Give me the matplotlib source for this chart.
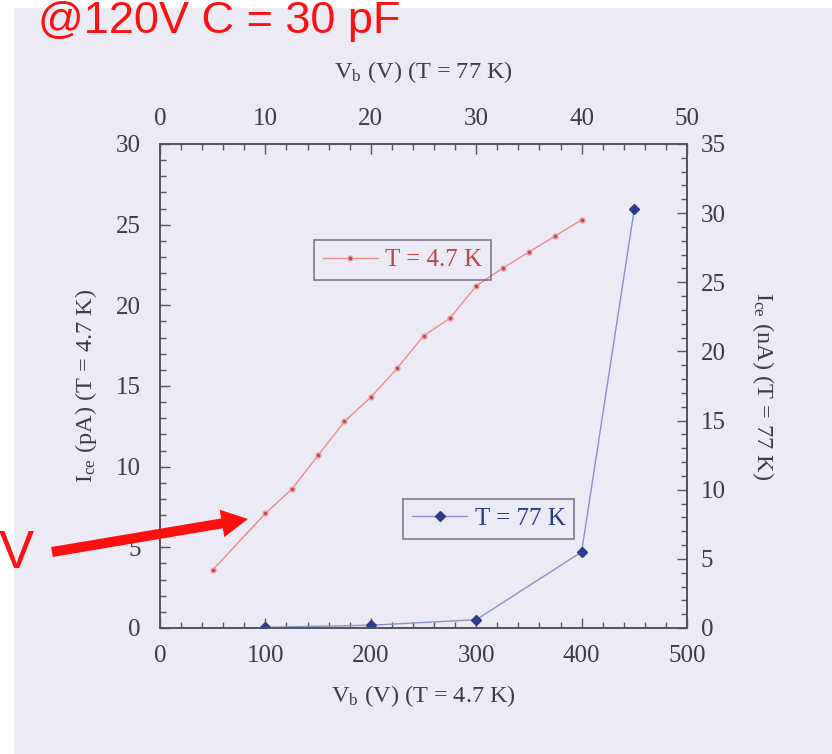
import matplotlib
matplotlib.use("Agg")
import matplotlib.pyplot as plt
from matplotlib.patches import Rectangle, FancyArrowPatch
from matplotlib.ticker import MultipleLocator

# --- data ---
vb_47k = [50, 100, 125, 150, 175, 200, 225, 250, 275, 300, 325, 350, 375, 400]
ice_47k = [3.6, 7.1, 8.6, 10.7, 12.8, 14.3, 16.1, 18.1, 19.2, 21.2, 22.3, 23.3, 24.3, 25.3]

vb_77k = [10, 20, 30, 40, 45]
ice_77k = [0.05, 0.2, 0.6, 5.5, 30.3]

W, H = 832, 754
BG = "#ECEBF5"
FRAME = "#55555F"
TXT = "#3C3C46"
RED_LINE = "#E88C8C"
RED_PT = "#C24646"
BLUE_LINE = "#8A92C4"
BLUE_PT = "#2E3A8A"

plt.rcParams["font.family"] = ["Liberation Serif", "DejaVu Serif"]
plt.rcParams["mathtext.fontset"] = "stix"
FS = 18
FS_LAB = 17.5

fig = plt.figure(figsize=(W / 100, H / 100), dpi=100, facecolor=BG)

# white margins of the scanned slide
fig.patches.append(Rectangle((0, 1 - 8 / H), 1, 8 / H, transform=fig.transFigure,
                             facecolor="white", edgecolor="none", zorder=0))
fig.patches.append(Rectangle((0, 0), 14 / W, 1, transform=fig.transFigure,
                             facecolor="white", edgecolor="none", zorder=0))


def px_rect(l, t, r, b):
    return [l / W, 1 - b / H, (r - l) / W, (b - t) / H]


ax = fig.add_axes(px_rect(160, 144, 687, 628))
ax.set_facecolor("none")
ax2 = ax.twinx()
ax3 = ax2.twiny()

# T = 4.7 K : bottom / left axes
ax.plot(vb_47k, ice_47k, color=RED_LINE, lw=1.0, marker="o", ms=3.5,
        mfc=RED_PT, mec="#E8A0A0", mew=1.0, label="T = 4.7 K")
ax.set_xlim(0, 500)
ax.set_ylim(0, 30)
ax.xaxis.set_major_locator(MultipleLocator(100))
ax.xaxis.set_minor_locator(MultipleLocator(20))
ax.yaxis.set_major_locator(MultipleLocator(5))
ax.yaxis.set_minor_locator(MultipleLocator(1))

# T = 77 K : top / right axes
ax3.plot(vb_77k, ice_77k, color=BLUE_LINE, lw=1.0, marker="D", ms=5,
         mfc=BLUE_PT, mec=BLUE_PT, label="T = 77 K")
ax3.set_xlim(0, 50)
ax2.set_ylim(0, 35)
ax3.xaxis.set_major_locator(MultipleLocator(10))
ax3.xaxis.set_minor_locator(MultipleLocator(2))
ax2.yaxis.set_major_locator(MultipleLocator(5))
ax2.yaxis.set_minor_locator(MultipleLocator(1))

for a in (ax, ax2, ax3):
    for s in a.spines.values():
        s.set_color(FRAME)
        s.set_linewidth(1.1)
    a.tick_params(which="both", direction="in", color=FRAME, width=1.0,
                  labelsize=FS, labelcolor=TXT)
    a.tick_params(which="major", length=7)
    a.tick_params(which="minor", length=4)

ax.tick_params(axis="x", pad=12)
ax.tick_params(axis="y", pad=14)
ax2.tick_params(axis="y", pad=10)
ax3.tick_params(axis="x", pad=10)

ax.set_xlabel(r"V$_{\mathregular{b}}$ (V) (T = 4.7 K)", fontsize=FS_LAB, color=TXT, labelpad=12)
ax3.set_xlabel(r"V$_{\mathregular{b}}$ (V) (T = 77 K)", fontsize=FS_LAB, color=TXT, labelpad=22)
ax.set_ylabel(r"I$_{\mathregular{ce}}$ (pA) (T = 4.7 K)", fontsize=FS_LAB, color=TXT, labelpad=12)
ax2.set_ylabel(r"I$_{\mathregular{ce}}$ (nA) (T = 77 K)", fontsize=FS_LAB, color=TXT,
               rotation=-90, labelpad=36)

leg_kw = dict(fontsize=FS, frameon=True, fancybox=False, facecolor="none",
              edgecolor=FRAME, handlelength=2.2, handletextpad=0.3,
              borderpad=0.35, loc="center")
leg1 = ax.legend(bbox_to_anchor=(0.46, 0.76), labelcolor=RED_PT, **leg_kw)
leg2 = ax3.legend(bbox_to_anchor=(0.624, 0.226), labelcolor=BLUE_PT, **leg_kw)
for lg in (leg1, leg2):
    lg.get_frame().set_linewidth(1.1)

# slide annotations
fig.text(38 / W, 1 - 33 / H, "@120V C = 30 pF", fontsize=32.5, color="#FF1010",
         family="Liberation Sans", va="baseline", ha="left")
fig.text(-1 / W, 1 - 568 / H, "V", fontsize=38, color="#FF1010",
         family="Liberation Sans", va="baseline", ha="left")
arrow = FancyArrowPatch((52, H - 552), (248, H - 519), transform=None,
                        arrowstyle="simple,head_length=0.95,head_width=1.0,tail_width=0.36",
                        mutation_scale=20, color="#FF1010", lw=0,
                        shrinkA=0, shrinkB=0)
fig.patches.append(arrow)

fig.savefig("out.png", dpi=100, facecolor=BG)
